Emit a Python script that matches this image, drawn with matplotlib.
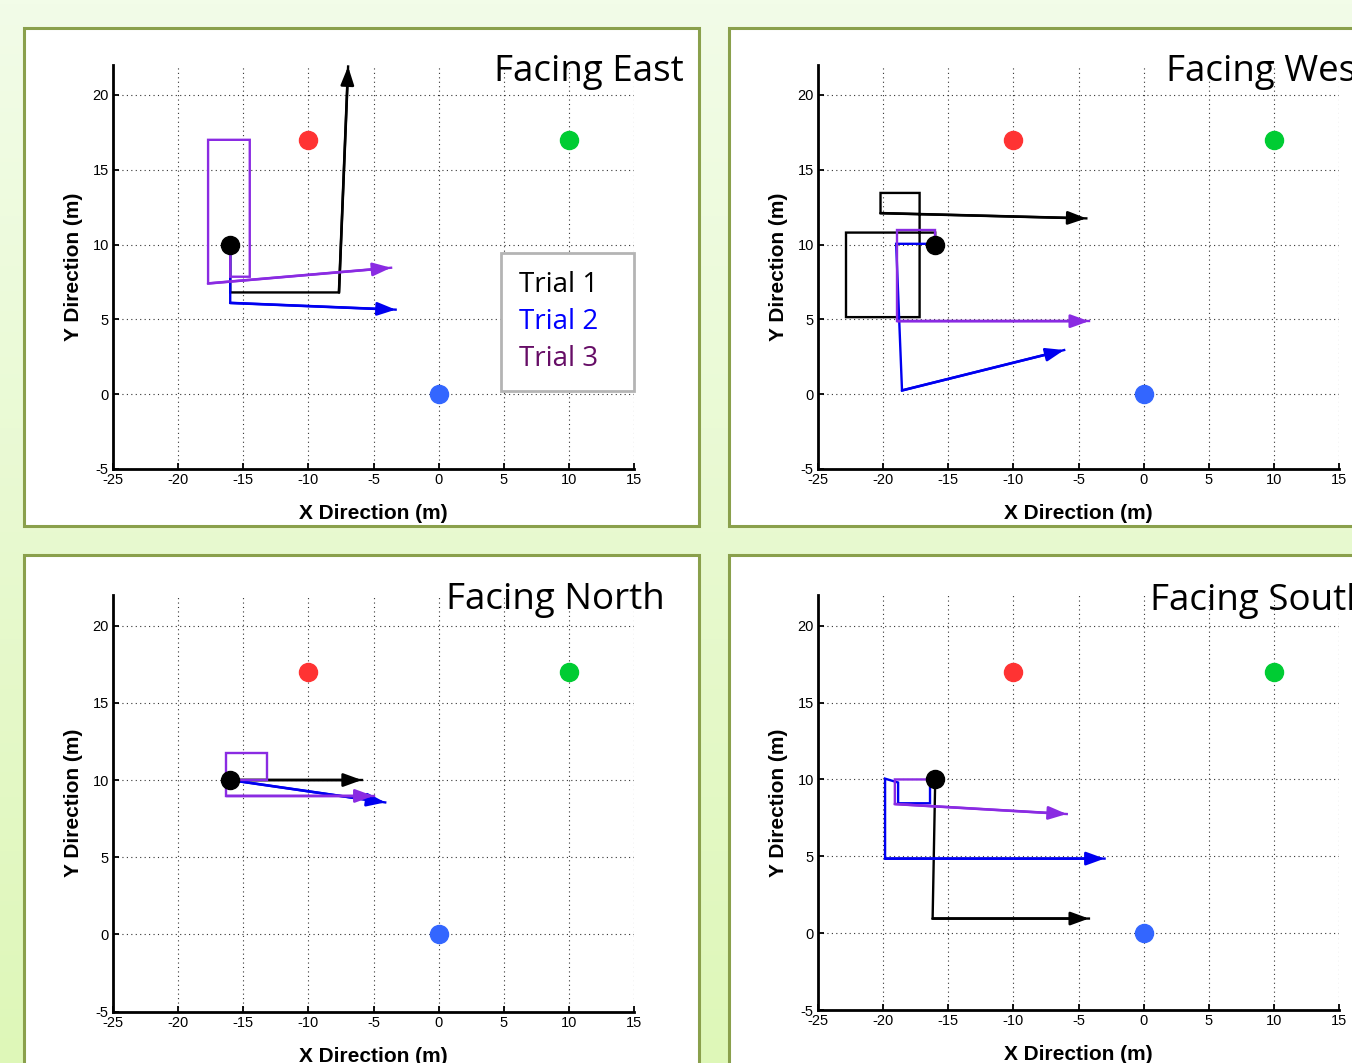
import matplotlib
matplotlib.use('Agg')
import matplotlib.pyplot as plt
import numpy as np
from matplotlib.patches import Rectangle
from matplotlib.lines import Line2D
from matplotlib.colors import LinearSegmentedColormap

plt.rcParams['font.family'] = ['Liberation Sans', 'DejaVu Sans']
plt.rcParams['axes.unicode_minus'] = False

W, H = 1352, 1063

xticks = [-25, -20, -15, -10, -5, 0, 5, 10, 15]
yticks = [-5, 0, 5, 10, 15, 20]

# landmarks (red, green, blue) and the starting point
landmark_x = [-10, 10, 0]
landmark_y = [17, 17, 0]
landmark_colors = ['#ff3333', '#00cc33', '#3366ff']
start_x, start_y = -16, 10

trial_labels = ['Trial 1', 'Trial 2', 'Trial 3']
trial_colors = ['black', '#0000f0', '#8a2be2']
label_colors = ['black', '#0000ff', '#660d66']

# walked paths, one list per trial
east_x = [[-16, -16, -7.65, -6.95],
          [-16, -16, -3.3],
          [-16, -16, -14.5, -14.5, -17.7, -17.7, -3.65]]
east_y = [[10, 6.8, 6.8, 21.9],
          [10, 6.1, 5.65],
          [10, 7.85, 7.85, 17.0, 17.0, 7.4, 8.45]]

west_x = [[-16, -16, -22.85, -22.85, -17.2, -17.2, -20.2, -20.2, -4.4],
          [-16, -19.0, -18.55, -6.1],
          [-16, -16, -18.9, -18.9, -4.2]]
west_y = [[10, 10.8, 10.8, 5.15, 5.15, 13.45, 13.45, 12.1, 11.75],
          [10.05, 10.05, 0.25, 2.95],
          [10, 11.0, 11.0, 4.88, 4.88]]

north_x = [[-16, -5.9],
           [-16, -4.1],
           [-16, -13.2, -13.2, -16.3, -16.3, -5.0]]
north_y = [[10, 10],
           [10, 8.55],
           [10, 10, 11.75, 11.75, 8.97, 8.97]]

south_x = [[-16, -16.2, -4.2],
           [-16, -16.4, -16.4, -18.85, -18.85, -19.85, -19.85, -3.0],
           [-16, -19.1, -19.1, -5.9]]
south_y = [[10, 0.95, 0.95],
           [10, 9.65, 8.45, 8.45, 9.8, 10.05, 4.85, 4.85],
           [10, 10, 8.4, 7.75]]

fig = plt.figure(figsize=(W / 100, H / 100), dpi=100)

# pale green gradient background
bg = fig.add_axes([0, 0, 1, 1], zorder=-10)
bg.axis('off')
cmap = LinearSegmentedColormap.from_list('bg', ['#def7b8', '#f2fce8'])
bg.imshow(np.linspace(0, 1, 256).reshape(-1, 1), cmap=cmap, aspect='auto',
          extent=[0, 1, 0, 1], origin='lower')


def px_rect(x0, y0, x1, y1):
    return (x0 / W, 1 - y1 / H, (x1 - x0) / W, (y1 - y0) / H)


for (x0, y0, x1, y1) in [(24, 28, 699, 526), (729, 28, 1370, 526),
                         (24, 555, 699, 1080), (729, 555, 1370, 1080)]:
    l, b, w, h = px_rect(x0, y0, x1, y1)
    fig.add_artist(Rectangle((l, b), w, h, transform=fig.transFigure,
                             facecolor='white', edgecolor='#8aa04c',
                             lw=2.2, zorder=-5))


def draw_panel(rect, xs, ys, title, tx, ty):
    ax = fig.add_axes(rect)
    ax.set_facecolor('none')
    ax.set_xlim(-25, 15)
    ax.set_ylim(-5, 22)
    ax.set_xticks(xticks)
    ax.set_yticks(yticks)
    ax.spines['top'].set_visible(False)
    ax.spines['right'].set_visible(False)
    for s in ['left', 'bottom']:
        ax.spines[s].set_linewidth(2)
    ax.tick_params(direction='in', length=4, width=1.3, labelsize=10.5, pad=3)
    ax.grid(True, linestyle=(0, (1, 3)), color='#333333', lw=0.8)
    ax.set_axisbelow(True)
    ax.set_xlabel('X Direction (m)', fontsize=15, fontweight='bold', labelpad=12)
    ax.set_ylabel('Y Direction (m)', fontsize=15, fontweight='bold', labelpad=7)

    for px, py, c in zip(xs, ys, trial_colors):
        ax.plot(px, py, color=c, lw=1.7, solid_joinstyle='miter', zorder=3)
        ax.annotate('', xy=(px[-1], py[-1]), xytext=(px[-2], py[-2]),
                    arrowprops=dict(arrowstyle='-|>,head_length=0.55,head_width=0.2',
                                    color=c, lw=1.9, shrinkA=0, shrinkB=0,
                                    mutation_scale=20),
                    annotation_clip=False, zorder=3)

    for lx, ly, c in zip(landmark_x, landmark_y, landmark_colors):
        ax.plot(lx, ly, 'o', color=c, ms=13, mec=c, zorder=4)
    ax.plot(start_x, start_y, 'o', color='black', ms=13, zorder=5)

    fig.text(tx / W, 1 - ty / H, title, fontsize=26.5, family=['Open Sans', 'DejaVu Sans'],
             ha='left', va='baseline')
    return ax


ax1 = draw_panel([113 / W, 1 - 469 / H, 521 / W, 404 / H], east_x, east_y,
                 'Facing East', 494, 81)
ax2 = draw_panel([818 / W, 1 - 469 / H, 521 / W, 404 / H], west_x, west_y,
                 'Facing West', 1166, 81)
ax3 = draw_panel([113 / W, 1 - 1011.7 / H, 521 / W, 417 / H], north_x, north_y,
                 'Facing North', 446, 609)
ax4 = draw_panel([818 / W, 1 - 1010 / H, 521 / W, 415 / H], south_x, south_y,
                 'Facing South', 1150, 610)

handles = [Line2D([], [], color='none') for _ in trial_labels]
leg = ax1.legend(handles, trial_labels, loc='upper right', bbox_to_anchor=(1.0, 0.535),
                 borderaxespad=0, markerfirst=False, handlelength=0.65, handletextpad=0,
                 borderpad=0.65, labelspacing=0.33, fancybox=False, framealpha=1,
                 prop={'family': ['Open Sans', 'DejaVu Sans'], 'size': 20})
leg.get_frame().set_edgecolor('#b4b4b4')
leg.get_frame().set_linewidth(2)
for t, c in zip(leg.get_texts(), label_colors):
    t.set_color(c)

fig.savefig('out.png', dpi=100)
